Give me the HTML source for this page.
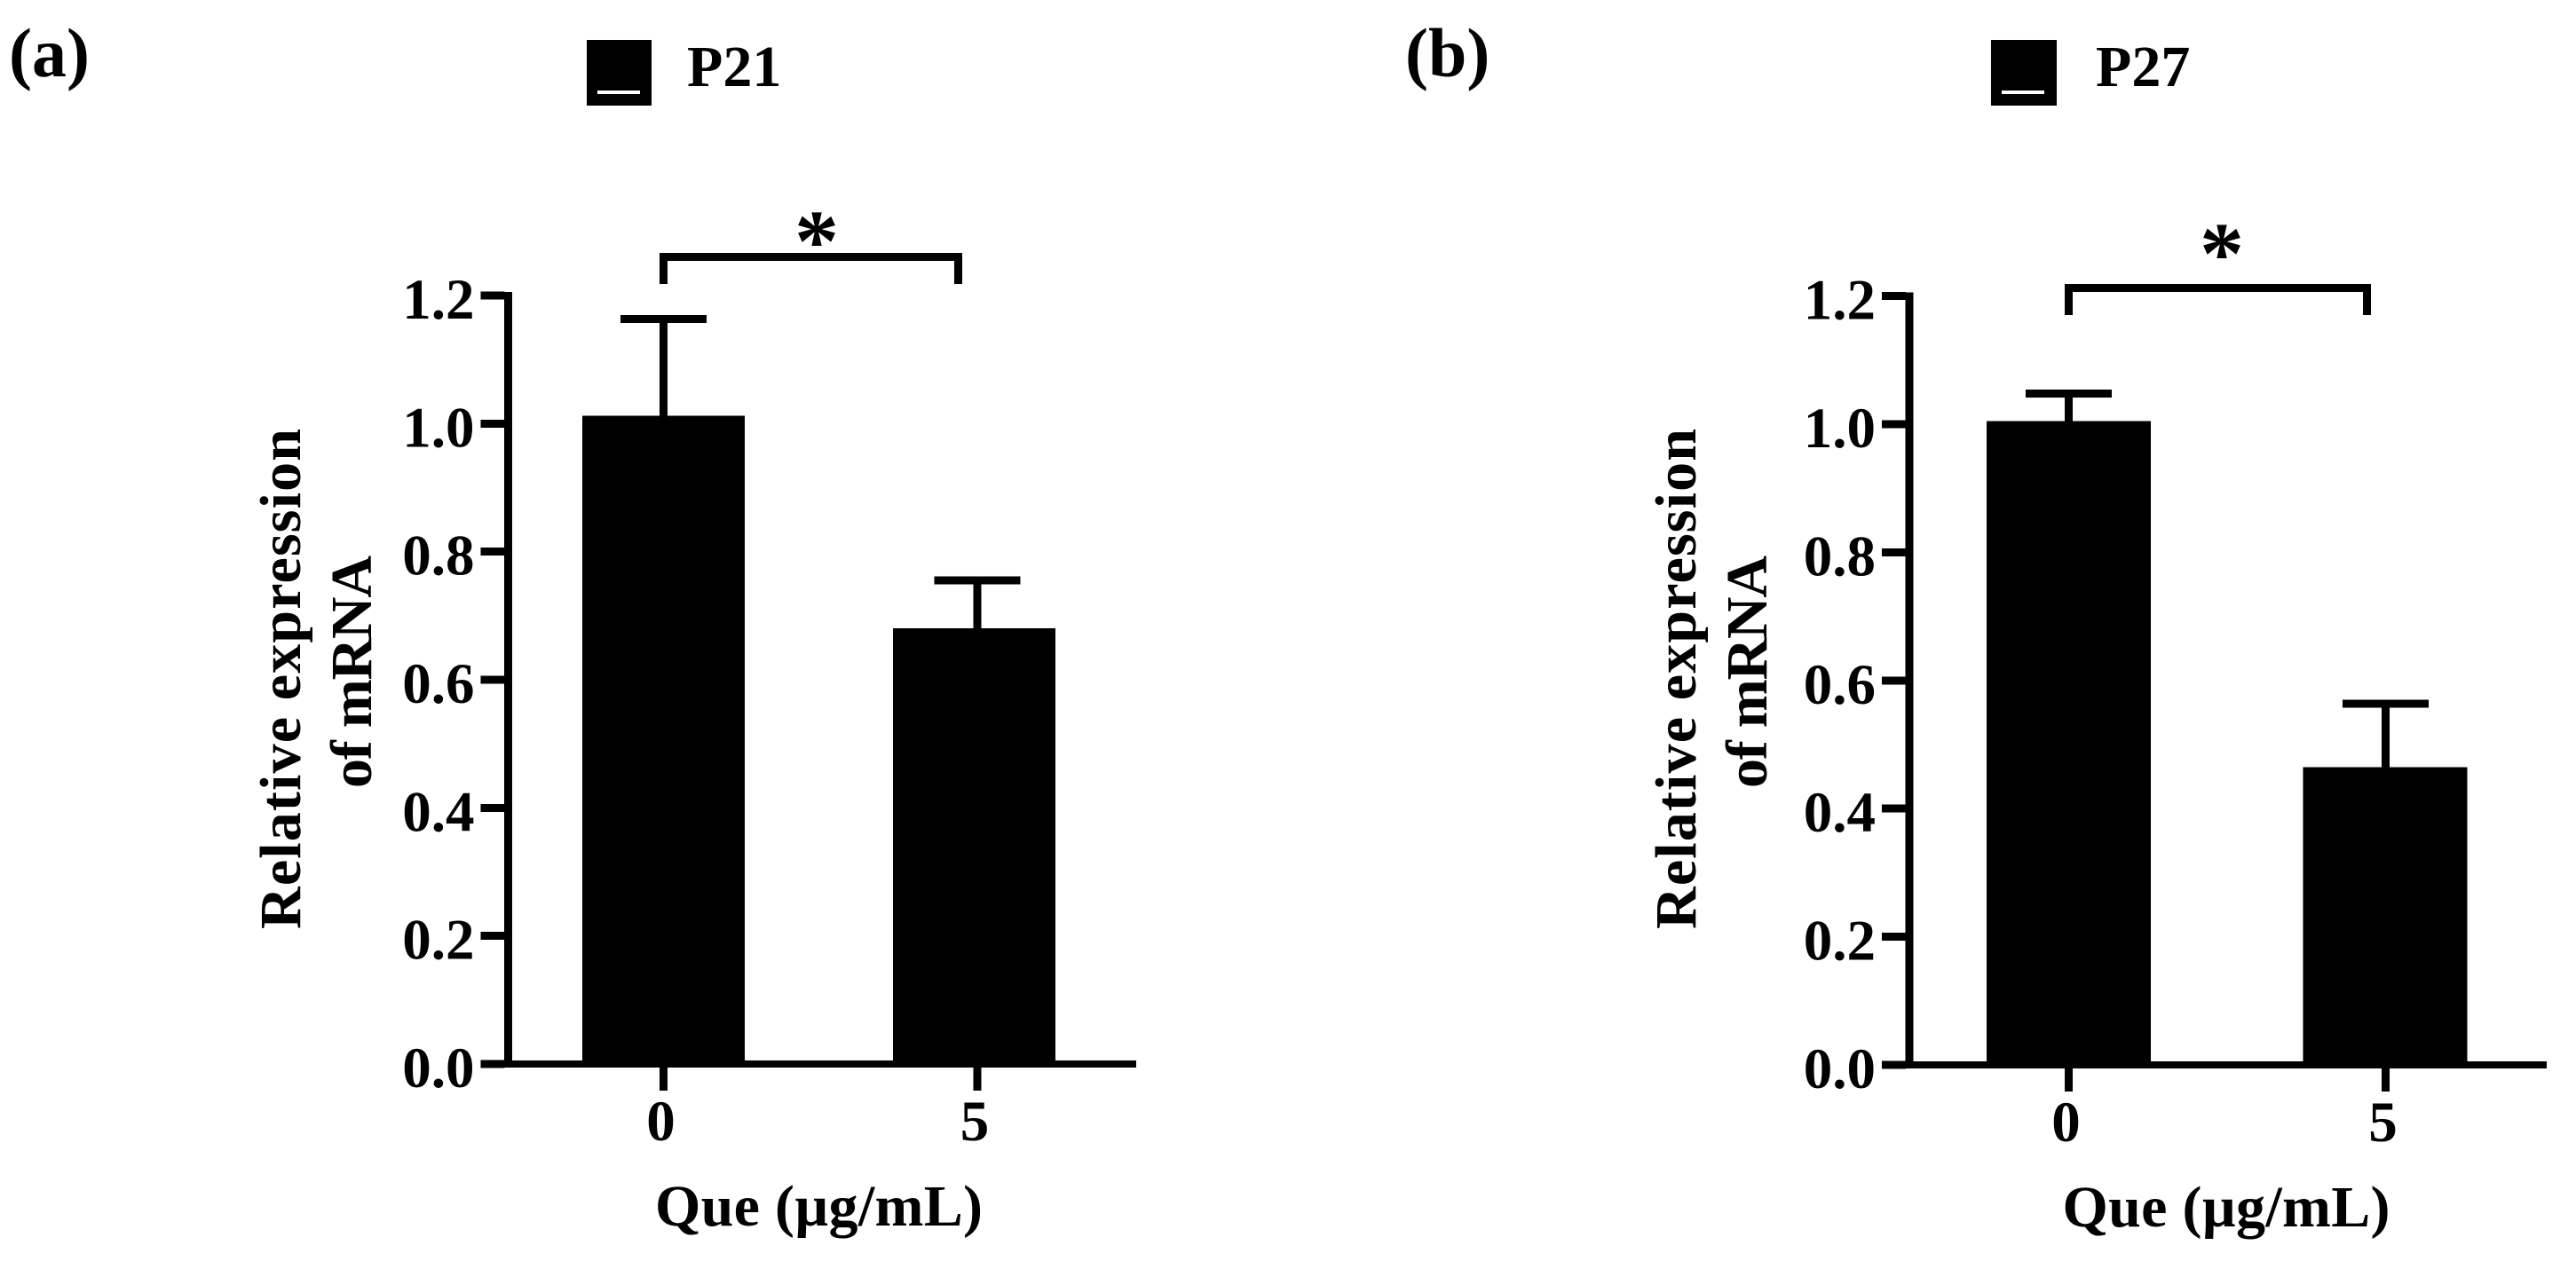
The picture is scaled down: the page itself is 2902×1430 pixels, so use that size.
<!DOCTYPE html>
<html lang="en">
<head>
<meta charset="utf-8">
<title>Relative mRNA expression of P21 and P27</title>
<style>
html,body{margin:0;padding:0;background:#fff;width:2902px;height:1430px;overflow:hidden}
svg{display:block}
text{font-family:"Liberation Serif","Times New Roman",serif;font-weight:bold;fill:#000}
</style>
</head>
<body>
<svg id="figure" xmlns="http://www.w3.org/2000/svg" width="2902" height="1430" viewBox="0 0 2902 1430"></svg>
<script>
// Chart data
const categories = ["0", "5"];
const yTickValues = [0, 0.2, 0.4, 0.6, 0.8, 1.0, 1.2];
const yTickLabels = ["0.0", "0.2", "0.4", "0.6", "0.8", "1.0", "1.2"];
const p21Values = [1.012, 0.68];
const p21Errors = [0.151, 0.075];
const p27Values = [1.005, 0.465];
const p27Errors = [0.043, 0.099];

const NS = "http://www.w3.org/2000/svg";
const root = document.getElementById("figure");

function addRect(parent, x, y, w, h, fill) {
  const r = document.createElementNS(NS, "rect");
  r.setAttribute("x", x);
  r.setAttribute("y", y);
  r.setAttribute("width", w);
  r.setAttribute("height", h);
  r.setAttribute("fill", fill || "#000");
  r.setAttribute("shape-rendering", "crispEdges");
  parent.appendChild(r);
  return r;
}
function addText(parent, x, y, str, size, anchor) {
  const t = document.createElementNS(NS, "text");
  t.setAttribute("x", x);
  t.setAttribute("y", y);
  t.setAttribute("font-size", size);
  t.setAttribute("text-anchor", anchor || "start");
  t.textContent = str;
  parent.appendChild(t);
  return t;
}
function addGroup(parent) {
  const g = document.createElementNS(NS, "g");
  parent.appendChild(g);
  return g;
}

function drawPanel(cfg, values, errors) {
  const panel = addGroup(root);
  
  

  // Axis functions
  const yScale = v => cfg.y0 - v * cfg.yPerUnit;
  const xScale = i => cfg.x0 + i * cfg.step;
  const barCenter = i => cfg.x0 + i * cfg.barStep;

  // Panel letter
  const letter = addText(panel, cfg.letterX, 86, "(" + cfg.id + ")", 78);
  
  

  // Legend
  const swatch = addRect(panel, cfg.legendX, 45, cfg.legendW, 74);
  
  
  const dash = addRect(panel, cfg.legendX + 12, 102, 48, 4, "#fff");
  
  
  const legendText = addText(panel, cfg.legendTextX, 97, cfg.gene, 66);
  
  

  // Bars
  values.forEach((v, i) => {
    const bx = barCenter(i);
    const cx = xScale(i);
    const bar = addRect(panel, bx - cfg.barW / 2, yScale(v), cfg.barW, cfg.y0 - yScale(v));
    
    

    const topY = yScale(v + errors[i]);
    const stem = addRect(panel, cx - 4.5, topY, 9, yScale(v) - topY);
    
    
    const cap = addRect(panel, cx - 48.5, topY - 4.5, 97, 9);
    
    
  });

  // Y axis
  const yAxis = addRect(panel, cfg.axisX - 4.5, yScale(1.2) - 4, 9, cfg.y0 - yScale(1.2) + 8);
  
  
  yTickValues.forEach((v, i) => {
    const tick = addRect(panel, cfg.axisX - 31, yScale(v) - 4.5, 27, 9);
    
    
    const lbl = addText(panel, cfg.axisX - 38, yScale(v) + 26, yTickLabels[i], 65, "end");
    
    
  });

  // X axis
  const xAxis = addRect(panel, cfg.axisX - 31, cfg.y0 - 4, cfg.xAxisEnd - cfg.axisX + 31, 8);
  
  
  categories.forEach((c, i) => {
    const tick = addRect(panel, xScale(i) - 4.5, cfg.y0, 9, 30);
    
    
    const lbl = addText(panel, xScale(i) - 3, cfg.y0 + 86, c, 65, "middle");
    
    
  });

  // X title
  const xTitle = addText(panel, cfg.xTitleX, cfg.y0 + 182, "Que (µg/mL)", 66, "middle");
  xTitle.setAttribute("textLength", "369");
  
  

  // Y title (two lines)
  const yTitle1 = addText(panel, 0, 0, "Relative expression", 66, "middle");
  yTitle1.setAttribute("transform", "translate(" + cfg.yTitleX1 + ",765) rotate(-90)");
  yTitle1.setAttribute("textLength", "564");
  
  
  const yTitle2 = addText(panel, 0, 0, "of mRNA", 66, "middle");
  yTitle2.setAttribute("transform", "translate(" + cfg.yTitleX2 + ",757) rotate(-90)");
  yTitle2.setAttribute("textLength", "262");
  
  

  // Significance bracket
  const bracket = addGroup(panel);
  
  
  addRect(bracket, cfg.brLeft, cfg.brTop, cfg.brRight - cfg.brLeft, 9);
  addRect(bracket, cfg.brLeft, cfg.brTop, 9, 35);
  addRect(bracket, cfg.brRight - 9, cfg.brTop, 9, 35);
  const star = addText(panel, cfg.starX, cfg.starY, "*", 100, "middle");
  
  
}

drawPanel({
  id: "a", gene: "P21", x0: 747.5, step: 353.5, barStep: 350, barW: 183, axisX: 572.5, xAxisEnd: 1280,
  y0: 1199, yPerUnit: 721.7, letterX: 10, legendX: 661, legendW: 73, legendTextX: 774,
  xTitleX: 922.5, yTitleX1: 338, yTitleX2: 418, brLeft: 743, brRight: 1084, brTop: 285, starX: 920, starY: 305
}, p21Values, p21Errors);

drawPanel({
  id: "b", gene: "P27", x0: 2330.5, step: 357, barStep: 356.5, barW: 185, axisX: 2151, xAxisEnd: 2869,
  y0: 1200, yPerUnit: 722, letterX: 1583, legendX: 2243, legendW: 74, legendTextX: 2361,
  xTitleX: 2508, yTitleX1: 1910, yTitleX2: 1990, brLeft: 2326, brRight: 2671, brTop: 320, starX: 2503, starY: 319
}, p27Values, p27Errors);
</script>
</body>
</html>
